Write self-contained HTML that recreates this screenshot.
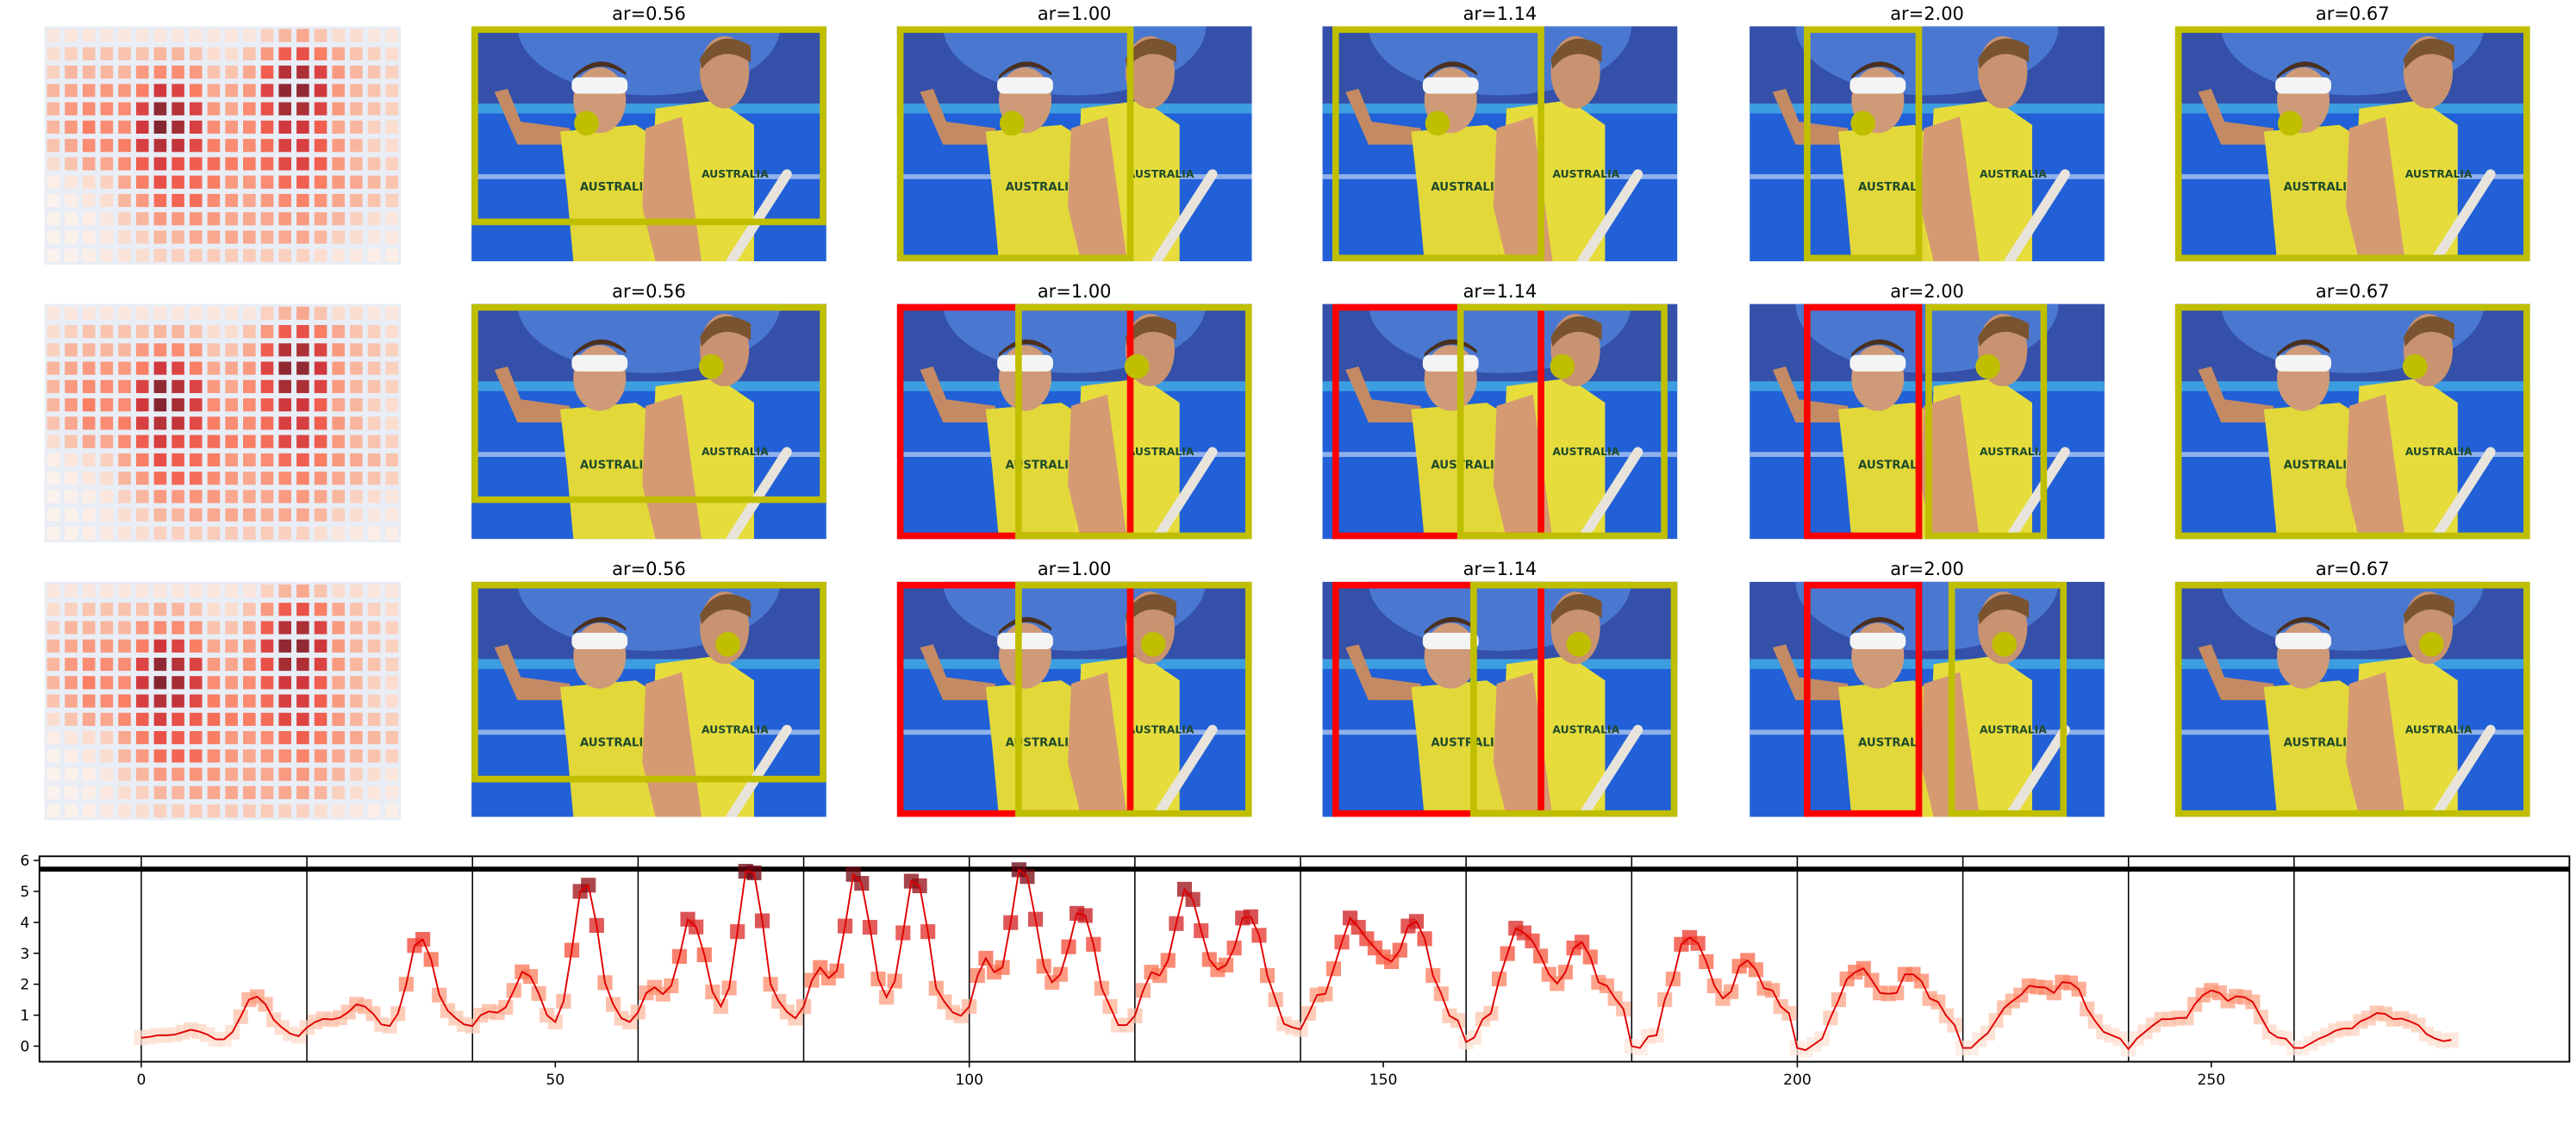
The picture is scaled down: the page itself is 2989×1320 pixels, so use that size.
<!DOCTYPE html>
<html><head><meta charset="utf-8"><style>
html,body{margin:0;padding:0;background:#fff;}
svg{display:block;}
text{font-family:"DejaVu Sans","Liberation Sans",sans-serif;}
</style></head><body>
<svg id="fig" width="2989" height="1320" viewBox="0 0 1568 692.4" preserveAspectRatio="none" xmlns="http://www.w3.org/2000/svg">
<defs id="defs"></defs>
<g id="panels"></g>
<g id="chart"></g>
</svg>
<script>
// ---------- chart data ----------
const scores = [0.27,0.3,0.35,0.35,0.37,0.45,0.53,0.47,0.37,0.22,0.22,0.45,0.95,1.5,1.6,1.35,0.85,0.6,0.4,0.32,
0.6,0.78,0.88,0.86,0.92,1.1,1.35,1.28,1.05,0.7,0.65,1.05,2.0,3.25,3.45,2.8,1.65,1.15,0.9,0.7,
0.65,1.0,1.12,1.08,1.25,1.8,2.4,2.25,1.7,1.0,0.78,1.45,3.1,5.0,5.2,3.9,2.05,1.35,0.9,0.78,
1.1,1.72,1.9,1.68,1.95,2.9,4.1,3.85,2.95,1.75,1.28,1.88,3.7,5.65,5.6,4.05,2.0,1.45,1.1,0.9,
1.28,2.13,2.54,2.2,2.43,3.88,5.55,5.26,3.84,2.17,1.58,2.1,3.66,5.33,5.18,3.7,1.87,1.43,1.09,0.98,
1.28,2.28,2.84,2.39,2.54,3.99,5.7,5.48,4.1,2.58,2.06,2.32,3.21,4.29,4.22,3.29,1.87,1.28,0.68,0.68,
0.98,1.8,2.39,2.28,2.77,3.96,5.07,4.74,3.73,2.8,2.47,2.62,3.17,4.14,4.18,3.58,2.28,1.5,0.72,0.61,
0.54,1.06,1.65,1.69,2.5,3.36,4.14,3.84,3.47,3.17,2.88,2.73,3.1,3.88,4.03,3.47,2.28,1.69,0.98,0.83,
0.13,0.28,0.87,1.06,2.17,2.99,3.81,3.66,3.4,2.91,2.32,2.02,2.39,3.17,3.36,2.88,2.06,1.95,1.54,1.2,
0,-0.06,0.31,0.35,1.5,2.17,3.29,3.51,3.32,2.73,1.95,1.54,1.76,2.58,2.77,2.47,1.87,1.8,1.28,1.06,
-0.06,-0.13,0.05,0.24,0.91,1.5,2.17,2.39,2.51,2.13,1.72,1.69,1.72,2.32,2.32,2.1,1.54,1.43,0.98,0.68,
-0.06,-0.06,0.2,0.42,0.83,1.24,1.46,1.65,1.95,1.91,1.89,1.72,2.07,2.04,1.84,1.2,0.8,0.46,0.35,0.24,
-0.1,0.24,0.46,0.68,0.87,0.87,0.91,0.91,1.35,1.65,1.8,1.72,1.46,1.61,1.58,1.43,0.94,0.46,0.28,0.24,
-0.06,-0.06,0.09,0.24,0.35,0.5,0.57,0.57,0.8,0.91,1.07,1.04,0.87,0.89,0.8,0.68,0.39,0.25,0.16,0.2];
const xTicks = [0,50,100,150,200,250];
const yTicks = [0,1,2,3,4,5,6];
const boundaries = [0,20,40,60,80,100,120,140,160,180,200,220,240,260];
const threshold = [5.72];
const arLabels = ["ar=0.56","ar=1.00","ar=1.14","ar=2.00","ar=0.67"];
// heatmap intensities (13 rows x 20 cols)
const heat = [
[.1,.1,.1,.1,.1,.1,.1,.1,.1,.1,.1,.1,.2,.3,.35,.25,.15,.15,.1,.1],
[.15,.2,.25,.25,.25,.25,.3,.3,.25,.15,.15,.25,.4,.6,.65,.5,.35,.25,.2,.15],
[.2,.3,.3,.3,.3,.4,.45,.45,.4,.25,.25,.35,.6,.85,.88,.7,.4,.3,.25,.2],
[.3,.35,.4,.4,.4,.5,.75,.7,.5,.35,.35,.4,.7,.95,.95,.75,.4,.3,.25,.2],
[.3,.4,.45,.45,.45,.7,.95,.85,.7,.4,.35,.45,.65,.9,.88,.7,.4,.3,.25,.2],
[.3,.4,.5,.45,.45,.75,.98,.9,.72,.45,.4,.45,.6,.75,.75,.6,.35,.3,.2,.15],
[.25,.35,.45,.45,.5,.72,.85,.8,.68,.5,.45,.45,.55,.72,.72,.6,.4,.3,.2,.15],
[.15,.25,.35,.35,.45,.6,.72,.65,.6,.55,.5,.5,.55,.68,.7,.6,.4,.3,.25,.2],
[.05,.1,.15,.2,.35,.5,.65,.6,.55,.5,.4,.4,.45,.55,.6,.5,.4,.35,.3,.25],
[.02,.05,.1,.15,.3,.4,.55,.58,.55,.45,.4,.35,.4,.45,.48,.42,.35,.3,.25,.2],
[.02,.03,.05,.1,.2,.3,.4,.4,.42,.4,.35,.35,.35,.4,.4,.35,.3,.2,.15,.1],
[.02,.03,.05,.08,.15,.2,.3,.3,.35,.35,.35,.35,.32,.35,.35,.3,.2,.15,.1,.08],
[.02,.03,.05,.08,.12,.15,.2,.2,.22,.22,.22,.22,.22,.2,.2,.15,.1,.08,.05,.05]];

const NS="http://www.w3.org/2000/svg";
function mk(tag,attrs,parent){const e=document.createElementNS(NS,tag);for(const k in attrs)e.setAttribute(k,attrs[k]);if(parent)parent.appendChild(e);return e;}
const stops=[[255,245,240],[254,224,210],[252,187,161],[252,146,114],[251,106,74],[239,59,44],[203,24,29],[165,15,21],[103,0,13]];
function reds(t){t=Math.max(0,Math.min(1,t));const p=t*8,i=Math.min(7,Math.floor(p)),f=p-i;const a=stops[i],b=stops[i+1];
return `rgb(${Math.round(a[0]+(b[0]-a[0])*f)},${Math.round(a[1]+(b[1]-a[1])*f)},${Math.round(a[2]+(b[2]-a[2])*f)})`;}

// ---------- image grid ----------
const panels=document.getElementById('panels');
const defs=document.getElementById('defs');
const colX=[287,546,805,1065,1324];
const rowY=[16,185,354];
const PW=216, PH=143;
const YEL="#bfbf00", RED="#ff0000";
const cp=mk('clipPath',{id:'photoclip'},defs);mk('rect',{x:0,y:0,width:PW,height:PH},cp);
function drawPhoto(g,x,y){
  const outer=mk('g',{transform:`translate(${x},${y})`},g);
  
  
  const p=mk('g',{'clip-path':'url(#photoclip)'},outer);
  mk('rect',{x:0,y:0,width:PW,height:PH,fill:'#2160d6'},p);
  mk('rect',{x:0,y:0,width:PW,height:50,fill:'#3450a8'},p);
  mk('ellipse',{cx:108,cy:0,rx:80,ry:42,fill:'#4a78d0'},p);
  mk('rect',{x:0,y:47,width:PW,height:6,fill:'#3c9ee0'},p);
  mk('rect',{x:0,y:90,width:PW,height:3,fill:'#8fb0ec'},p);
  // left player
  mk('path',{d:'M14,40 L22,38 L30,58 L60,62 L58,72 L28,72 Z',fill:'#c48a64'},p);
  mk('path',{d:'M54,64 L100,60 L116,70 L118,143 L62,143 L58,100 Z',fill:'#e2d83a'},p);
  mk('ellipse',{cx:78,cy:45,rx:16,ry:20,fill:'#cf9a78'},p);
  mk('path',{d:'M62,32 Q78,18 94,30 L94,28 Q78,14 62,30 Z',fill:'#4a3020'},p);
  mk('rect',{x:61,y:31,width:34,height:10,rx:4,fill:'#f4f4f4'},p);
  mk('text',{x:66,y:100,'font-size':7,fill:'#1f4a2a','font-weight':'bold'},p).textContent='AUSTRALIA';
  // right player
  mk('path',{d:'M112,50 L150,45 L172,60 L172,143 L108,143 Z',fill:'#e6dc3c'},p);
  mk('path',{d:'M106,62 L128,55 L140,143 L112,143 L104,110 Z',fill:'#d69a72'},p);
  mk('ellipse',{cx:154,cy:28,rx:15,ry:22,fill:'#c99270'},p);
  mk('path',{d:'M139,20 Q150,0 170,12 L170,22 Q152,10 140,26 Z',fill:'#7a5430'},p);
  mk('text',{x:140,y:92,'font-size':6.5,fill:'#1f4a2a','font-weight':'bold'},p).textContent='AUSTRALIA';
  mk('line',{x1:192,y1:90,x2:158,y2:143,stroke:'#e8e4dc','stroke-width':6,'stroke-linecap':'round'},p);
}
function box(g,x1,y1,x2,y2,color,name){
  const r=mk('rect',{x:x1+2,y:y1+2,width:x2-x1-4,height:y2-y1-4,fill:'none',stroke:color,'stroke-width':4},g);
  
  
}
function dot(g,cx,cy){
  const c=mk('circle',{cx:cx,cy:cy,r:7.5,fill:YEL},g);
  
  
}
const boxSpecs=[
 [ {y:[287,503,137],d:[357,75]}, {y:[546,690,159],d:[616,75]}, {y:[811,940,159],d:[875,75]}, {y:[1098,1170,159],d:[1134,75]}, {y:[1324,1540,159],d:[1394,75]} ],
 [ {y:[287,503,306],d:[433,223]}, {r:[546,690],y:[618,762,328],d:[692,223]}, {r:[811,940],y:[887,1015,328],d:[951,223]}, {r:[1098,1170],y:[1172,1246,328],d:[1210,223]}, {y:[1324,1540,328],d:[1470,223]} ],
 [ {y:[287,503,476],d:[443,392]}, {r:[546,690],y:[618,762,497],d:[702,392]}, {r:[811,940],y:[895,1021,497],d:[961,392]}, {r:[1098,1170],y:[1186,1258,497],d:[1220,392]}, {y:[1324,1540,497],d:[1480,392]} ]];
for(let r=0;r<3;r++){
  const hg=mk('g',{},panels);
  
  
  const hx=27,hy=rowY[r],hw=217,hh=145;
  mk('rect',{x:hx,y:hy,width:hw,height:hh,fill:'#e9edf5'},hg);
  const cw=hw/20,ch=hh/13;
  heat.forEach((row,i)=>row.forEach((v,j)=>{
    const s=mk('rect',{x:hx+j*cw+1.6,y:hy+i*ch+1.6,width:cw-3.2,height:ch-3.2,fill:reds(v),'fill-opacity':0.85},hg);
    
    
  }));
  for(let c=0;c<5;c++){
    const g=mk('g',{},panels);
    
    
    const x=colX[c],y=rowY[r];
    drawPhoto(g,x,y);
    const t=mk('text',{x:x+PW/2,y:y-4,'font-size':11,'text-anchor':'middle',fill:'#000'},g);
    t.textContent=arLabels[c];
    
    
    const sp=boxSpecs[r][c];
    if(sp.r) box(g,sp.r[0],y,sp.r[1],y+PH,RED,'previous-crop-box');
    box(g,sp.y[0],y,sp.y[1],sp.y[2],YEL,'crop-box');
    dot(g,sp.d[0],sp.d[1]);
  }
}

// ---------- chart ----------
const ch=document.getElementById('chart');
const AX={l:24,r:1564,t:521,b:646};
function xs(v){return 86+v*5.04;}
function ys(v){return 636.5-v*18.83;}
const plot=mk('g',{},ch);


boundaries.forEach(b=>{
  const l=mk('line',{x1:xs(b),x2:xs(b),y1:AX.t,y2:AX.b,stroke:'#000','stroke-width':0.8},plot);
  
  
});
threshold.forEach(v=>{
  const l=mk('line',{x1:AX.l,x2:AX.r,y1:ys(v),y2:ys(v),stroke:'#000','stroke-width':3},plot);
  
  
});
const maxV=5.7, ms=9;
scores.forEach((v,i)=>{
  const m=mk('rect',{x:xs(i)-ms/2,y:ys(v)-ms/2,width:ms,height:ms,fill:reds(0.08+0.92*Math.max(0,v)/maxV),'fill-opacity':0.75},plot);
  
  
});
const pl=mk('polyline',{points:scores.map((v,i)=>xs(i)+','+ys(v)).join(' '),fill:'none',stroke:'#e00000','stroke-width':1},plot);


const frame=mk('rect',{x:AX.l,y:AX.t,width:AX.r-AX.l,height:AX.b-AX.t,fill:'none',stroke:'#000','stroke-width':1},ch);


xTicks.forEach(t=>{
  mk('line',{x1:xs(t),x2:xs(t),y1:AX.b,y2:AX.b+3.5,stroke:'#000','stroke-width':0.8},ch);
  const tx=mk('text',{x:xs(t),y:AX.b+14,'font-size':9,'text-anchor':'middle'},ch);
  tx.textContent=t;
  
  
});
yTicks.forEach(t=>{
  mk('line',{x1:AX.l-3.5,x2:AX.l,y1:ys(t),y2:ys(t),stroke:'#000','stroke-width':0.8},ch);
  const tx=mk('text',{x:AX.l-6,y:ys(t)+3.2,'font-size':9,'text-anchor':'end'},ch);
  tx.textContent=t;
  
  
});
</script>
</body></html>
